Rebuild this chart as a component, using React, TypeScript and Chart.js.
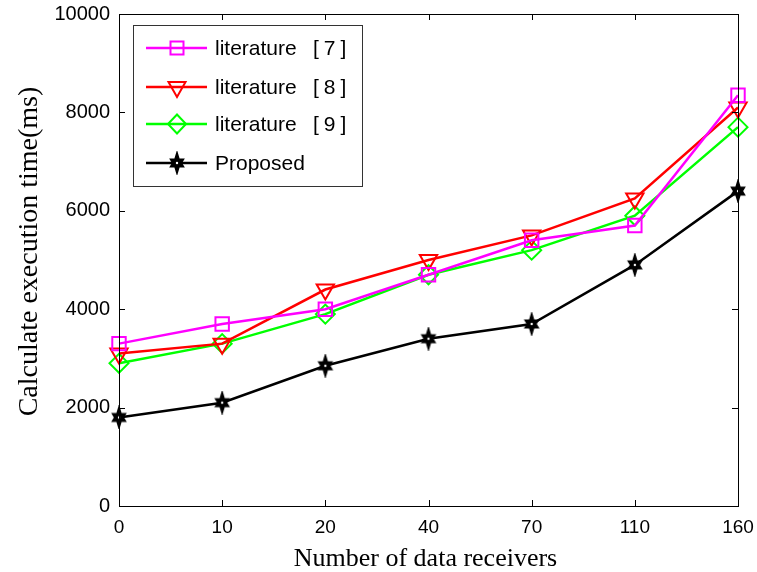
import React, { useEffect, useRef } from "react";
import { Chart, registerables } from "chart.js";

Chart.register(...registerables);

const categories = ["0", "10", "20", "40", "70", "110", "160"];
const lit7 = [3300, 3700, 4000, 4700, 5400, 5700, 8350];
const lit8 = [3100, 3300, 4400, 5000, 5500, 6250, 8100];
const lit9 = [2900, 3300, 3900, 4700, 5200, 5900, 7700];
const proposed = [1800, 2100, 2850, 3400, 3700, 4900, 6400];
const seriesNames = ["literature", "literature", "literature", "Proposed"];
const seriesRefs = ["[7]", "[8]", "[9]", ""];
const xTitle = "Number of data receivers";
const yTitle = "Calculate execution time(ms)";

function drawStarPath(ctx: CanvasRenderingContext2D, cx: number, cy: number, s: number) {
  ctx.beginPath();
  for (let i = 0; i < 12; i++) {
    const ang = -Math.PI / 2 + (i * Math.PI) / 6;
    let r: number;
    if (i % 2 === 0) {
      r = i === 0 || i === 6 ? 10.5 * s : 7.5 * s;
    } else {
      r = 4.2 * s;
    }
    const x = cx + Math.cos(ang) * r;
    const y = cy + Math.sin(ang) * r;
    if (i === 0) ctx.moveTo(x, y);
    else ctx.lineTo(x, y);
  }
  ctx.closePath();
}

function makeStar(): HTMLCanvasElement {
  const c = document.createElement("canvas");
  c.width = 24;
  c.height = 24;
  const ctx = c.getContext("2d")!;
  ctx.fillStyle = "#000";
  ctx.strokeStyle = "#000";
  ctx.lineWidth = 1.5;
  ctx.lineJoin = "miter";
  drawStarPath(ctx, 12, 12, 1);
  ctx.fill();
  ctx.stroke();
  ctx.fillStyle = "#fff";
  ctx.beginPath();
  ctx.arc(12, 12, 1.2, 0, Math.PI * 2);
  ctx.fill();
  return c;
}

const colors = ["#ff00ff", "#ff0000", "#00ff00", "#000000"];

export default function App() {
  const ref = useRef<HTMLCanvasElement>(null);
  useEffect(() => {
    const star = makeStar();
    const boxPlugin = {
      id: "boxPlugin",
      afterDraw(chart: any) {
        const { ctx, chartArea } = chart;
        const { left, right, top, bottom } = chartArea;
        ctx.save();
        ctx.strokeStyle = "#000";
        ctx.lineWidth = 1;
        ctx.strokeRect(Math.round(left) + 0.5, Math.round(top) + 0.5, Math.round(right - left), Math.round(bottom - top));
        const ys = chart.scales.y;
        const xs = chart.scales.x;
        ctx.beginPath();
        ys.ticks.forEach((t: any) => {
          const y = Math.round(ys.getPixelForValue(t.value)) + 0.5;
          ctx.moveTo(left, y);
          ctx.lineTo(left + 6, y);
          ctx.moveTo(right, y);
          ctx.lineTo(right - 6, y);
        });
        xs.ticks.forEach((t: any, i: number) => {
          const x = Math.round(xs.getPixelForTick(i)) + 0.5;
          ctx.moveTo(x, bottom);
          ctx.lineTo(x, bottom - 6);
          ctx.moveTo(x, top);
          ctx.lineTo(x, top + 6);
        });
        ctx.stroke();

        // axis titles
        ctx.fillStyle = "#000";
        ctx.textBaseline = "alphabetic";
        ctx.textAlign = "center";
        ctx.font = '26px "Liberation Serif", "Times New Roman", serif';
        ctx.fillText(xTitle, 425.5, 566);
        ctx.save();
        ctx.translate(37, 251.5);
        ctx.rotate(-Math.PI / 2);
        ctx.font = '28px "Liberation Serif", "Times New Roman", serif';
        ctx.fillText(yTitle, 0, 0);
        ctx.restore();

        // legend
        const lx = 133, ly = 25, lw = 229, lh = 161;
        ctx.fillStyle = "#fff";
        ctx.fillRect(lx, ly, lw, lh);
        ctx.strokeStyle = "#333";
        ctx.strokeRect(lx + 0.5, ly + 0.5, lw, lh);
        const rows = [48, 87, 124, 163];
        rows.forEach((ry, i) => {
          const col = colors[i];
          ctx.strokeStyle = col;
          ctx.lineWidth = 2.5;
          ctx.beginPath();
          ctx.moveTo(146, ry);
          ctx.lineTo(207, ry);
          ctx.stroke();
          const mx = 177;
          ctx.lineWidth = 2;
          ctx.beginPath();
          if (i === 0) {
            ctx.rect(mx - 6.5, ry - 6.5, 13, 13);
            ctx.stroke();
          } else if (i === 1) {
            ctx.moveTo(mx - 8.5, ry - 5);
            ctx.lineTo(mx + 8.5, ry - 5);
            ctx.lineTo(mx, ry + 10);
            ctx.closePath();
            ctx.stroke();
          } else if (i === 2) {
            ctx.moveTo(mx - 9, ry);
            ctx.lineTo(mx, ry - 9.5);
            ctx.lineTo(mx + 9, ry);
            ctx.lineTo(mx, ry + 9.5);
            ctx.closePath();
            ctx.stroke();
          } else {
            ctx.drawImage(star, mx - 12, ry - 12);
          }
          ctx.fillStyle = "#000";
          ctx.font = '21px "Liberation Sans", Arial, sans-serif';
          ctx.textBaseline = "middle";
          ctx.textAlign = "left";
          ctx.fillText(seriesNames[i], 215, ry + 1);
          if (seriesRefs[i]) {
            (ctx as any).letterSpacing = "5px";
            ctx.fillText(seriesRefs[i], 313, ry + 1);
            (ctx as any).letterSpacing = "0px";
          }
        });
        ctx.restore();
      },
    };

    const mk = (label: string, data: number[], i: number, extra: any) => ({
      label,
      data,
      borderColor: colors[i],
      backgroundColor: "transparent",
      borderWidth: 2.5,
      pointBorderColor: colors[i],
      pointBackgroundColor: "transparent",
      pointBorderWidth: 2,
      tension: 0,
      ...extra,
    });

    const chart = new Chart(ref.current!, {
      type: "line",
      data: {
        labels: categories,
        datasets: [
          mk("literature [7]", lit7, 0, { pointStyle: "rect", pointRadius: 9.5 }),
          mk("literature [8]", lit8, 1, { pointStyle: "triangle", pointRotation: 180, pointRadius: 10 }),
          mk("literature [9]", lit9, 2, { pointStyle: "rectRot", pointRadius: 9.5 }),
          mk("Proposed", proposed, 3, { pointStyle: star, pointRadius: 10 }),
        ],
      },
      options: {
        responsive: false,
        animation: false,
        layout: { padding: { top: 14, right: 19, left: 0, bottom: 0 } },
        plugins: { legend: { display: false }, tooltip: { enabled: false } },
        scales: {
          x: {
            type: "category",
            offset: false,
            grid: { display: false, drawTicks: false },
            border: { display: false },
            ticks: {
              color: "#000",
              font: { family: '"Liberation Sans", Arial, sans-serif', size: 19 },
              padding: 10,
              maxRotation: 0,
              autoSkip: false,
            },
            title: { display: false },
            afterFit(scale: any) {
              scale.height = 66;
              scale.paddingLeft = 0;
              scale.paddingRight = 0;
            },
          },
          y: {
            min: 0,
            max: 10000,
            grid: { display: false, drawTicks: false },
            border: { display: false },
            ticks: {
              stepSize: 2000,
              color: "#000",
              font: { family: '"Liberation Sans", Arial, sans-serif', size: 20 },
              padding: 9,
              callback: (v: any) => String(v),
            },
            title: { display: false },
            afterFit(scale: any) {
              scale.width = 119;
              scale.paddingTop = 0;
              scale.paddingBottom = 0;
            },
          },
        },
      },
      plugins: [boxPlugin],
    } as any);
    return () => chart.destroy();
  }, []);
  return (
    <div style={{ position: "absolute", left: 0, top: 0, width: 757, height: 572, background: "#fff" }}>
      <canvas ref={ref} width={757} height={572} style={{ display: "block" }} />
    </div>
  );
}
